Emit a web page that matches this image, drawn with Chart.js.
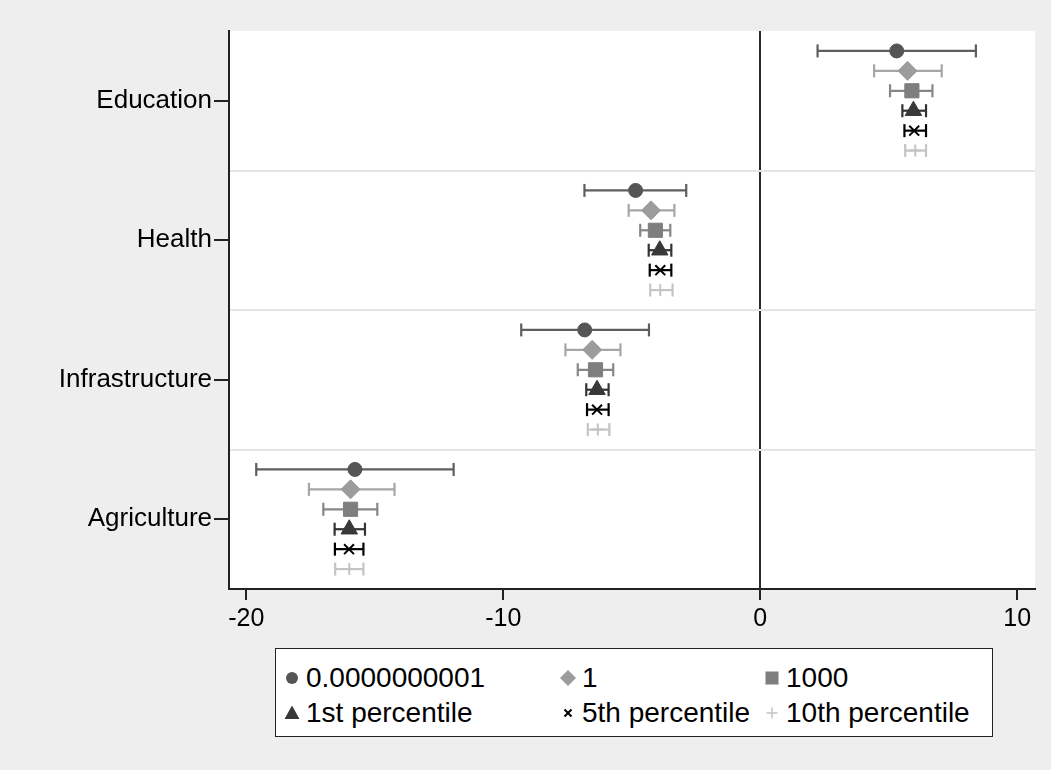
<!DOCTYPE html>
<html>
<head>
<meta charset="utf-8">
<script src="https://cdn.jsdelivr.net/npm/chart.js@4.4.1/dist/chart.umd.min.js"></script>
<style>
html,body{margin:0;padding:0;background:#eeeeee;}
#wrap{position:absolute;left:0;top:0;width:1051px;height:770px;}
#legend{position:absolute;left:275px;top:648px;width:716px;height:87px;border:1px solid #222;background:#fff;
  font-family:'Liberation Sans',Arial,Helvetica,sans-serif;font-size:28px;color:#000;}
.item{position:absolute;height:30px;line-height:30px;white-space:nowrap;}
.item svg{position:absolute;top:5px;}
.item span{position:absolute;top:0;}
</style>
</head>
<body>
<div id="wrap"><canvas id="c" width="1051" height="770"></canvas></div>
<div id="legend"></div>
<script>
// ---- data ----
const categories = ['Education', 'Health', 'Infrastructure', 'Agriculture'];
const seriesNames = ['0.0000000001', '1', '1000', '1st percentile', '5th percentile', '10th percentile'];
const xTickValues = [-20, -10, 0, 10];

// point estimates (order of categories)
const est_1e10  = [5.31, -4.85, -6.83, -15.77];
const est_1     = [5.73, -4.25, -6.54, -15.94];
const est_1000  = [5.90, -4.08, -6.41, -15.94];
const est_p1    = [5.96, -3.91, -6.35, -15.99];
const est_p5    = [5.99, -3.89, -6.35, -16.00];
const est_p10   = [6.03, -3.89, -6.32, -15.99];
// lower bounds
const lo_1e10   = [2.23, -6.84, -9.30, -19.61];
const lo_1      = [4.43, -5.12, -7.58, -17.56];
const lo_1000   = [5.05, -4.67, -7.10, -17.00];
const lo_p1     = [5.53, -4.34, -6.77, -16.56];
const lo_p5     = [5.61, -4.30, -6.74, -16.55];
const lo_p10    = [5.64, -4.28, -6.71, -16.54];
// upper bounds
const hi_1e10   = [8.39, -2.88, -4.33, -11.93];
const hi_1      = [7.06, -3.34, -5.44, -14.23];
const hi_1000   = [6.70, -3.50, -5.72, -14.90];
const hi_p1     = [6.45, -3.46, -5.90, -15.38];
const hi_p5     = [6.45, -3.46, -5.90, -15.44];
const hi_p10    = [6.45, -3.41, -5.87, -15.44];

const estimates = [est_1e10, est_1, est_1000, est_p1, est_p5, est_p10];
const lows = [lo_1e10, lo_1, lo_1000, lo_p1, lo_p5, lo_p10];
const highs = [hi_1e10, hi_1, hi_1000, hi_p1, hi_p5, hi_p10];

// ---- styling ----
const FONT = "'Liberation Sans', Arial, Helvetica, sans-serif";
const catPos = [3.5, 2.5, 1.5, 0.5];
const seriesOffset = [2.5, 1.5, 0.5, -0.5, -1.5, -2.5].map(k => k / 7);
const styles = [
  {ps: 'circle',   r: 7,   fill: '#555555', bar: '#5e5e5e', bw: 1},
  {ps: 'rectRot',  r: 9.5, fill: '#9c9c9c', bar: '#a6a6a6', bw: 1},
  {ps: 'rect',     r: 10,  fill: '#7e7e7e', bar: '#868686', bw: 1},
  {ps: 'triangle', r: 9.5, fill: '#383838', bar: '#333333', bw: 1},
  {ps: 'crossRot', r: 7,   fill: '#000000', bar: '#000000', bw: 2},
  {ps: 'cross',    r: 6,   fill: '#c4c4c4', bar: '#c4c4c4', bw: 2}
];

const datasets = [];
// markers (drawn on top)
estimates.forEach((est, s) => {
  const st = styles[s];
  datasets.push({
    label: seriesNames[s],
    data: est.map((v, i) => ({x: v, y: catPos[i] + seriesOffset[s]})),
    pointStyle: st.ps, pointRadius: st.r, pointHoverRadius: st.r,
    backgroundColor: st.fill, borderColor: st.fill, borderWidth: st.bw,
    showLine: false, order: 1
  });
});
// error bars
lows.forEach((lo, s) => {
  const st = styles[s];
  lo.forEach((l, i) => {
    const y = catPos[i] + seriesOffset[s];
    datasets.push({
      label: seriesNames[s] + ' CI',
      data: [{x: l, y: y}, {x: highs[s][i], y: y}],
      showLine: true, borderColor: st.bar, borderWidth: 2.2,
      pointStyle: 'line', pointRotation: 90, pointRadius: 6.5, pointHoverRadius: 6.5,
      pointBorderColor: st.bar, pointBorderWidth: 2.2, backgroundColor: st.bar,
      order: 2
    });
  });
});

const plotBg = {
  id: 'plotBg',
  beforeDraw(chart) {
    const {ctx, chartArea: a} = chart;
    ctx.save();
    ctx.fillStyle = '#ffffff';
    ctx.fillRect(a.left, a.top, a.right - a.left, a.bottom - a.top);
    ctx.restore();
  }
};

const yTickValues = [0, 0.5, 1, 1.5, 2, 2.5, 3, 3.5, 4];

new Chart(document.getElementById('c'), {
  type: 'scatter',
  data: {datasets},
  plugins: [plotBg],
  options: {
    responsive: false,
    animation: false,
    events: [],
    layout: {padding: {left: 0, right: 16, top: 31, bottom: 131}},
    plugins: {legend: {display: false}, tooltip: {enabled: false}},
    scales: {
      x: {
        type: 'linear', min: -20.67, max: 10.69,
        afterBuildTicks: sc => { sc.ticks = xTickValues.map(v => ({value: v})); },
        afterFit: sc => { sc.height = 50; },
        ticks: {font: {family: FONT, size: 25}, color: '#000', padding: 4, maxRotation: 0,
                callback: v => String(v)},
        grid: {
          color: c => (c.tick && c.tick.value === 0) ? '#2a2a2a' : 'rgba(0,0,0,0)',
          lineWidth: 2, tickColor: '#222', tickLength: 11, tickWidth: 2
        },
        border: {display: true, color: '#222', width: 2}
      },
      y: {
        type: 'linear', min: 0, max: 4,
        afterBuildTicks: sc => { sc.ticks = yTickValues.map(v => ({value: v})); },
        afterFit: sc => { sc.width = 229; },
        ticks: {font: {family: FONT, size: 26}, color: '#000', padding: 2, autoSkip: false,
                callback: v => { const k = catPos.indexOf(v); return k >= 0 ? categories[k] : ''; }},
        grid: {
          color: c => { const v = c.tick ? c.tick.value : -1; return (v > 0 && v < 4 && v % 1 === 0) ? '#e4e4e4' : 'rgba(0,0,0,0)'; },
          tickColor: c => { const v = c.tick ? c.tick.value : -1; return (v % 1 === 0.5) ? '#222' : 'rgba(0,0,0,0)'; },
          lineWidth: 2, tickLength: 15, tickWidth: 2
        },
        border: {display: true, color: '#222', width: 2}
      }
    }
  }
});

// ---- legend (HTML) ----
const legendColX = [16, 292, 496];
const legendRowY = [29, 64];
const icons = [
  c => `<circle cx="10" cy="10" r="6" fill="${c}"/>`,
  c => `<polygon points="10,2 18,10 10,18 2,10" fill="${c}"/>`,
  c => `<rect x="3.5" y="3.5" width="13" height="13" fill="${c}"/>`,
  c => `<polygon points="10,2.5 17.5,16 2.5,16" fill="${c}"/>`,
  c => `<path d="M6.5,6.5 L13.5,13.5 M13.5,6.5 L6.5,13.5" stroke="${c}" stroke-width="2"/>`,
  c => `<path d="M10,4.5 L10,15.5 M4.5,10 L15.5,10" stroke="${c}" stroke-width="1.5"/>`
];
const leg = document.getElementById('legend');
seriesNames.forEach((name, i) => {
  const col = i % 3, row = Math.floor(i / 3);
  const d = document.createElement('div');
  d.className = 'item';
  d.style.left = (legendColX[col] - 10) + 'px';
  d.style.top = (legendRowY[row] - 15) + 'px';
  d.innerHTML = `<svg width="20" height="20" style="left:0">${icons[i](styles[i].fill)}</svg><span style="left:24px">${name}</span>`;
  leg.appendChild(d);
});
</script>
</body>
</html>
